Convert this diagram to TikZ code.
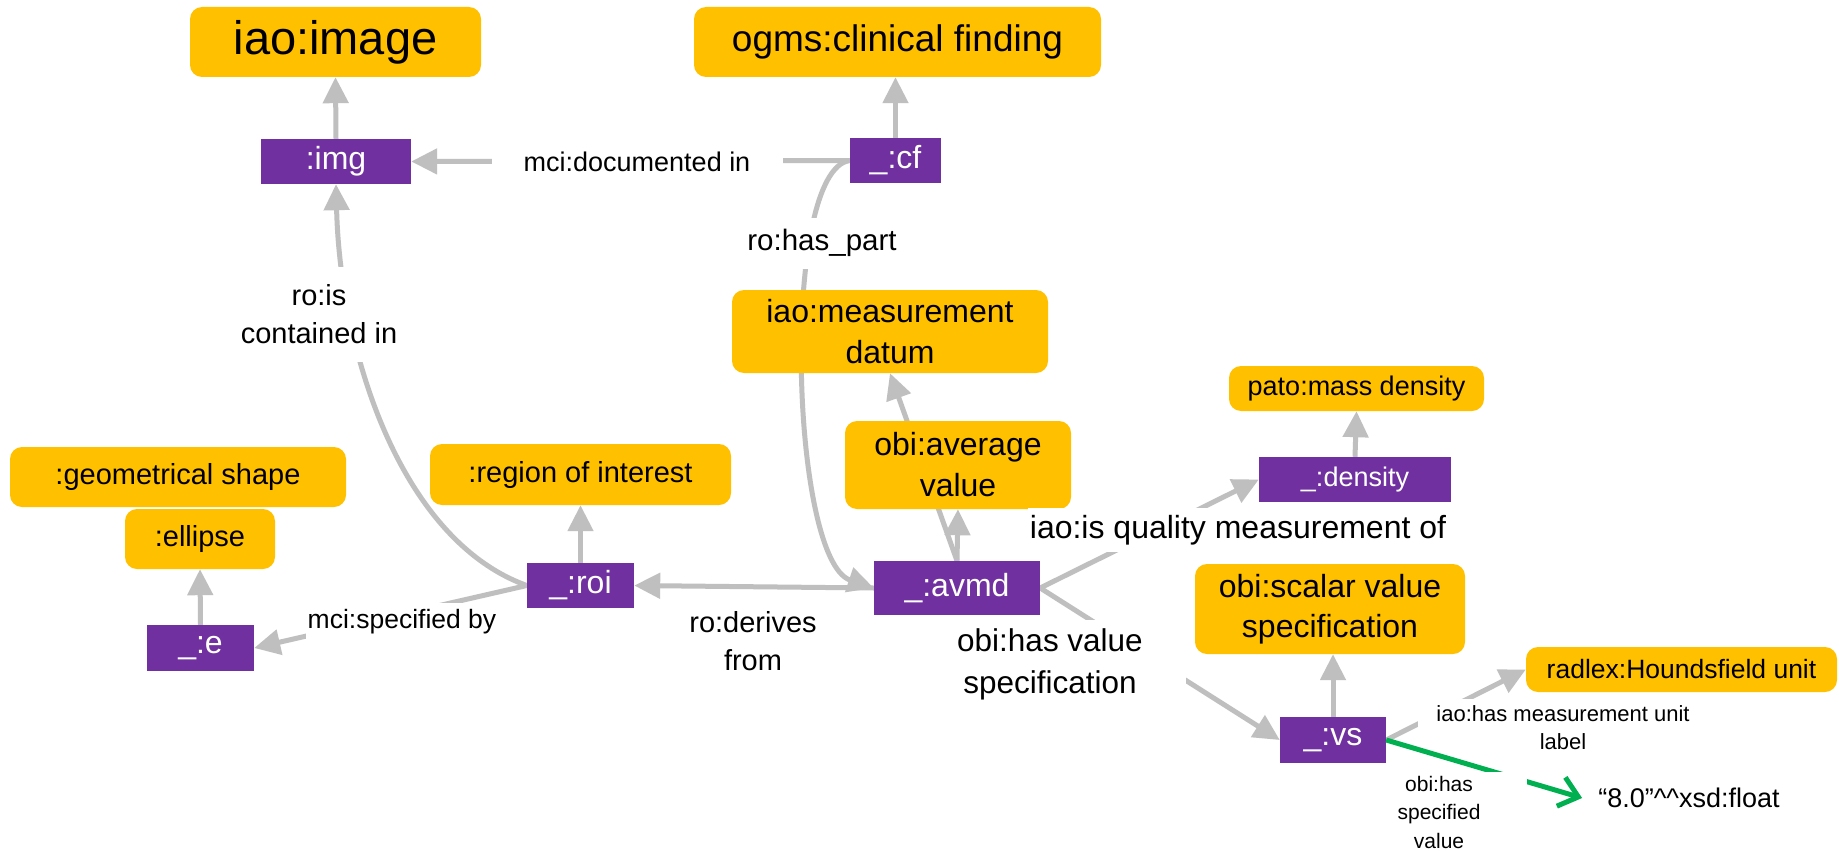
\documentclass[tikz,border=0pt]{standalone}
\usepackage{fontspec}
\setmainfont{Liberation Sans}
\usetikzlibrary{arrows.meta}

\pgfdeclarelayer{edges}
\pgfdeclarelayer{paper}
\pgfsetlayers{paper,edges,main}

\definecolor{clsfill}{HTML}{FFC000}
\definecolor{instfill}{HTML}{7030A0}
\definecolor{relgrey}{HTML}{BFBFBF}
\definecolor{litgreen}{HTML}{00B050}

\newcommand{\fsz}[2]{\fontsize{#1}{#2}\selectfont}

\tikzset{
  classbox/.style={fill=clsfill, rounded corners=12pt, inner sep=0pt, align=center, text=black},
  instbox/.style={fill=instfill, inner sep=0pt, text=white, font=\fsz{32}{40}},
  relabel/.style={fill=white, inner sep=0pt, align=center, text=black},
  relarrow/.style={draw=relgrey, line width=5pt, -{Triangle[length=26pt,width=25pt]}},
  litarrow/.style={draw=litgreen, line width=5pt, -{Straight Barb[length=18pt,width=30pt]}},
}

\begin{document}
\begin{tikzpicture}[x=1pt,y=-1pt]
\begin{pgfonlayer}{paper}
\fill[white] (0,0) rectangle (1839,851);
\end{pgfonlayer}
\useasboundingbox (0,0) rectangle (1839,851);

% ontology classes
\node[classbox, font=\fsz{47}{50}, minimum width=291pt, minimum height=70pt] (image) at (335.5,42) {iao:image};
\node[classbox, font=\fsz{37}{40}, minimum width=407pt, minimum height=70pt] (ogms) at (897.5,42) {ogms:clinical finding};
\node[classbox, font=\fsz{32}{41}, minimum width=316pt, minimum height=83pt] (datum) at (890,331.5) {iao:measurement\\datum};
\node[classbox, font=\fsz{32}{41}, minimum width=226pt, minimum height=88pt] (avg) at (958,465) {obi:average\\value};
\node[classbox, font=\fsz{27}{32}, minimum width=255pt, minimum height=45pt] (pato) at (1356.5,388.5) {pato:mass density};
\node[classbox, font=\fsz{29}{34}, minimum width=336pt, minimum height=60pt] (geo) at (178,477) {:geometrical shape};
\node[classbox, font=\fsz{29}{34}, minimum width=150pt, minimum height=60pt] (ellipse) at (200,539) {:ellipse};
\node[classbox, font=\fsz{29}{34}, minimum width=301pt, minimum height=61pt] (roiclass) at (580.5,474.5) {:region of interest};
\node[classbox, font=\fsz{32}{40}, minimum width=270pt, minimum height=90pt] (scalar) at (1330,609) {obi:scalar value\\specification};
\node[classbox, font=\fsz{26.5}{32}, minimum width=311pt, minimum height=45pt] (hu) at (1681.5,669.5) {radlex:Houndsfield unit};

% individuals
\node[instbox, minimum width=150pt, minimum height=45pt] (img) at (336,161.5) {:img};
\node[instbox, minimum width=91pt, minimum height=45pt] (cf) at (895.5,160.5) {\_:cf};
\node[instbox, minimum width=107pt, minimum height=46pt] (e) at (200.5,648) {\_:e};
\node[instbox, minimum width=107pt, minimum height=45pt] (roi) at (580.5,585.5) {\_:roi};
\node[instbox, minimum width=166pt, minimum height=54pt] (avmd) at (957,588) {\_:avmd};
\node[instbox, font=\fsz{27}{32}, minimum width=192pt, minimum height=45pt] (density) at (1355,479.5) {\_:density};
\node[instbox, minimum width=106pt, minimum height=46pt] (vs) at (1333,740) {\_:vs};

% literal value
\node[font=\fsz{27}{32}, inner xsep=16pt, inner ysep=0pt] (val) at (1689,798) {“8.0”\textasciicircum\textasciicircum xsd:float};

% relations, kept beneath the boxes
\begin{pgfonlayer}{edges}
\draw[relarrow] (img.north) -- (image.south);
\draw[relarrow] (cf.north) -- (cf.north |- ogms.south);
\draw[relarrow] (cf.west) -- (img.east);
\draw[relarrow] (cf.west) .. controls (780,170) and (790,560) .. (avmd.west);
\draw[relarrow] (roi.west) .. controls (400,540) and (340,350) .. (img.south);
\draw[relarrow] (roi.north) -- (roiclass.south);
\draw[relarrow] (roi.west) -- (e.east);
\draw[relarrow] (e.north) -- (ellipse.south);
\draw[relarrow] (avmd.west) -- (roi.east);
\draw[relarrow] (avmd.north) -- (datum.south);
\draw[relarrow] (avmd.north) -- (avg.south);
\draw[relarrow] (avmd.east) -- (density.west);
\draw[relarrow] (avmd.east) -- (vs.west);
\draw[relarrow] (density.north) -- (pato.south);
\draw[relarrow] (vs.north) -- (vs.north |- scalar.south);
\draw[relarrow] (vs.east) -- (hu.west);
\end{pgfonlayer}

% relation labels
\node[relabel, font=\fsz{27}{32}, minimum width=291pt, minimum height=40pt] (lbdoc) at (637,162) {mci:documented in};
\node[relabel, font=\fsz{29.5}{34}, minimum width=160pt, minimum height=51pt] (lbpart) at (822,243) {ro:has\_part};
\node[relabel, font=\fsz{29}{38}, minimum width=170pt, minimum height=95pt] (lbcont) at (319,314) {ro:is\\contained in};
\node[relabel, font=\fsz{26.5}{32}, minimum width=192pt, minimum height=37pt] (lbspec) at (402,621.5) {mci:specified by};
\node[font=\fsz{29}{38}, align=center, inner sep=0pt] (lbder) at (753,641) {ro:derives\\from};
\node[relabel, font=\fsz{32}{40}, minimum width=420pt, minimum height=44pt] (lbqual) at (1238,530) {iao:is quality measurement of};
\node[relabel, font=\fsz{31.5}{42}, minimum width=272pt, minimum height=88pt] (lbval) at (1050,664) {obi:has value\\specification};
\node[relabel, font=\fsz{22}{28}, minimum width=290pt, minimum height=58pt] (lbunit) at (1563,728) {iao:has measurement unit\\label};

% data property
\draw[litarrow] (vs.east) -- (val.west);
\node[relabel, font=\fsz{21}{28.5}, minimum width=176pt, minimum height=80pt] (lbsv) at (1439,812) {obi:has\\specified\\value};
\end{tikzpicture}
\end{document}
